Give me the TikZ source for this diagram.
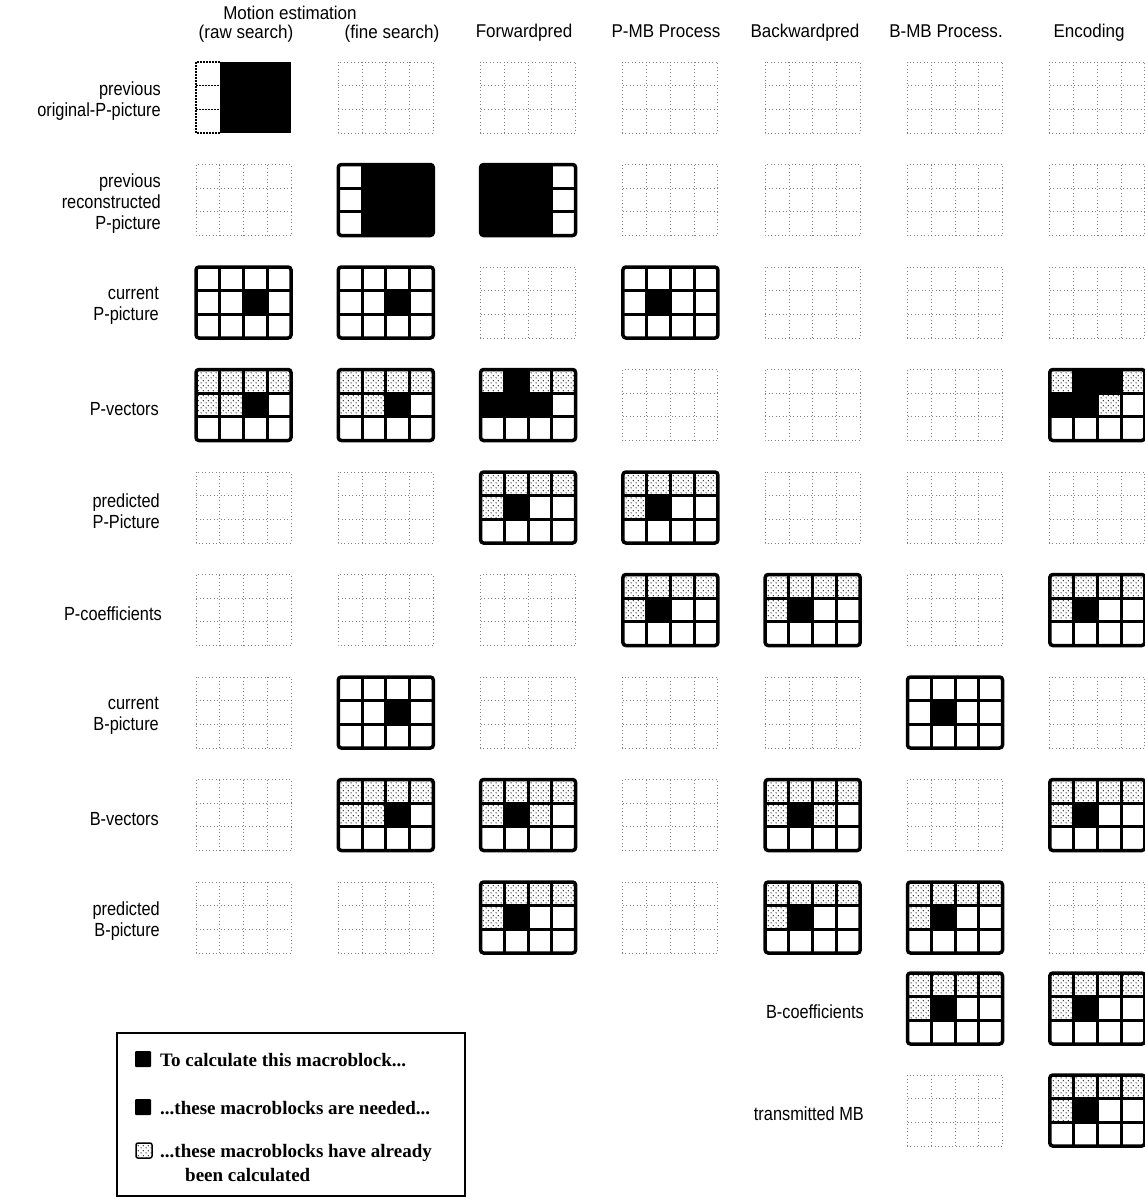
\documentclass[tikz,border=0pt]{standalone}
\usepackage{fontspec}
\setmainfont{Liberation Serif}
\newfontfamily\labfont[FakeStretch=0.86]{Liberation Sans}
\newfontfamily\hdrfont[FakeStretch=0.92]{Liberation Sans}
\usetikzlibrary{patterns}
\pgfdeclarepatternformonly{mbdots}{\pgfqpoint{0pt}{0pt}}{\pgfqpoint{5pt}{5pt}}{\pgfqpoint{5pt}{5pt}}{%
  \pgfpathcircle{\pgfqpoint{1.25pt}{1.25pt}}{0.7pt}%
  \pgfpathcircle{\pgfqpoint{3.75pt}{3.75pt}}{0.7pt}%
  \pgfusepath{fill}}
\tikzset{
  lbl/.style={font=\labfont\fontsize{19}{21}\selectfont, inner sep=0pt, align=right, anchor=east},
  hdr/.style={font=\hdrfont\fontsize{18.5}{21}\selectfont, inner sep=0pt, anchor=base},
  leg/.style={font=\bfseries\fontsize{19}{24}\selectfont, inner sep=0pt, anchor=base west},
  gridline/.style={line width=3pt},
  gridframe/.style={line width=3.5pt, rounded corners=3pt},
  faint/.style={draw=black!50, line width=0.9pt, dash pattern=on 1pt off 2.5pt},
  origdot/.style={draw=black, line width=1.5pt, dash pattern=on 1.5pt off 1.5pt},
}
% solid macroblock grid: #1 x, #2 y (top left), #3 black cells, #4 shaded cells
\newcommand\mbsolid[4]{%
  \begin{scope}[shift={(#1,#2)}]
    \fill[white] (0,0) rectangle (95,71);
    \foreach \mc/\mr in {#4}{\ifnum\mc>0 \fill[pattern=mbdots] ({(\mc-1)*23.75},{(\mr-1)*23.667}) rectangle ++(23.75,23.667);\fi}
    \foreach \mc/\mr in {#3}{\ifnum\mc>0 \fill[black] ({(\mc-1)*23.75},{(\mr-1)*23.667}) rectangle ++(23.75,23.667);\fi}
    \foreach \mi in {1,2,3} \draw[gridline] ({\mi*23.75},0) -- ++(0,71);
    \foreach \mj in {1,2} \draw[gridline] (0,{\mj*23.667}) -- ++(95,0);
    \draw[gridframe] (0,0) rectangle (95,71);
  \end{scope}}
% faint dotted (unused) grid
\newcommand\mbdot[2]{%
  \begin{scope}[shift={(#1,#2)}]
    \draw[faint] (0,0) rectangle (95,71);
    \foreach \mi in {1,2,3} \draw[faint] ({\mi*23.75},0) -- ++(0,71);
    \foreach \mj in {1,2} \draw[faint] (0,{\mj*23.667}) -- ++(95,0);
  \end{scope}}
\newcommand\mbstd[2]{\mbsolid{#1}{#2}{2/2}{1/1,2/1,3/1,4/1,1/2}}
\begin{document}
\begin{tikzpicture}[x=1pt,y=-1pt]
\useasboundingbox (0,0) rectangle (1144,1199);
\fill[white] (0,0) rectangle (1144,1199);

% headers
\node[hdr] (h0) at (290,20) {Motion estimation};
\node[hdr] (h1) at (246,39) {(raw search)};
\node[hdr] (h2) at (392,39) {(fine search)};
\node[hdr] (h3) at (524,38) {Forwardpred};
\node[hdr] (h4) at (666,38) {P-MB Process};
\node[hdr] (h5) at (805,38) {Backwardpred};
\node[hdr] (h6) at (946,38) {B-MB Process.};
\node[hdr] (h7) at (1089,38) {Encoding};

% row labels
\node[lbl] (r1) at (161,101) {previous\\original-P-picture};
\node[lbl] (r2) at (161,204) {previous\\reconstructed\\P-picture};
\node[lbl] (r3) at (159,306) {current\\P-picture};
\node[lbl] (r4) at (159,409) {P-vectors};
\node[lbl] (r5) at (160,511) {predicted\\P-Picture};
\node[lbl] (r6) at (162,614) {P-coefficients};
\node[lbl] (r7) at (159,716) {current\\B-picture};
\node[lbl] (r8) at (159,819) {B-vectors};
\node[lbl] (r9) at (160,921) {predicted\\B-picture};
\node[lbl] (r10) at (864,1012) {B-coefficients};
\node[lbl] (r11) at (864,1114) {transmitted MB};

% row 1: previous original P-picture
\begin{scope}[shift={(196,62)}]
  \fill[black] (23.75,0) rectangle (95,71);
  \draw[origdot] (23.75,0) -- (0,0) -- (0,71) -- (23.75,71);
  \draw[origdot] (0,23.667) -- (23.75,23.667);
  \draw[origdot] (0,47.333) -- (23.75,47.333);
\end{scope}
\mbdot{338.3}{62}\mbdot{480.6}{62}\mbdot{622.9}{62}\mbdot{765.2}{62}\mbdot{907.5}{62}\mbdot{1049.8}{62}

% row 2: previous reconstructed P-picture
\mbdot{196}{164.5}
\mbsolid{338.3}{164.5}{2/1,3/1,4/1,2/2,3/2,4/2,2/3,3/3,4/3}{0/0}
\mbsolid{480.6}{164.5}{1/1,2/1,3/1,1/2,2/2,3/2,1/3,2/3,3/3}{0/0}
\mbdot{622.9}{164.5}\mbdot{765.2}{164.5}\mbdot{907.5}{164.5}\mbdot{1049.8}{164.5}

% row 3: current P-picture
\mbsolid{196}{267}{3/2}{0/0}
\mbsolid{338.3}{267}{3/2}{0/0}
\mbdot{480.6}{267}
\mbsolid{622.9}{267}{2/2}{0/0}
\mbdot{765.2}{267}\mbdot{907.5}{267}\mbdot{1049.8}{267}

% row 4: P-vectors
\mbsolid{196}{369.5}{3/2}{1/1,2/1,3/1,4/1,1/2,2/2}
\mbsolid{338.3}{369.5}{3/2}{1/1,2/1,3/1,4/1,1/2,2/2}
\mbsolid{480.6}{369.5}{2/1,1/2,2/2,3/2}{1/1,3/1,4/1}
\mbdot{622.9}{369.5}\mbdot{765.2}{369.5}\mbdot{907.5}{369.5}
\mbsolid{1049.8}{369.5}{2/1,3/1,1/2,2/2}{1/1,4/1,3/2}

% row 5: predicted P-picture
\mbdot{196}{472}\mbdot{338.3}{472}
\mbstd{480.6}{472}
\mbstd{622.9}{472}
\mbdot{765.2}{472}\mbdot{907.5}{472}\mbdot{1049.8}{472}

% row 6: P-coefficients
\mbdot{196}{574.5}\mbdot{338.3}{574.5}\mbdot{480.6}{574.5}
\mbstd{622.9}{574.5}
\mbstd{765.2}{574.5}
\mbdot{907.5}{574.5}
\mbstd{1049.8}{574.5}

% row 7: current B-picture
\mbdot{196}{677}
\mbsolid{338.3}{677}{3/2}{0/0}
\mbdot{480.6}{677}\mbdot{622.9}{677}\mbdot{765.2}{677}
\mbsolid{907.5}{677}{2/2}{0/0}
\mbdot{1049.8}{677}

% row 8: B-vectors
\mbdot{196}{779.5}
\mbsolid{338.3}{779.5}{3/2}{1/1,2/1,3/1,4/1,1/2,2/2}
\mbsolid{480.6}{779.5}{2/2}{1/1,2/1,3/1,4/1,1/2,3/2}
\mbdot{622.9}{779.5}
\mbsolid{765.2}{779.5}{2/2}{1/1,2/1,3/1,4/1,1/2,3/2}
\mbdot{907.5}{779.5}
\mbstd{1049.8}{779.5}

% row 9: predicted B-picture
\mbdot{196}{882}\mbdot{338.3}{882}
\mbstd{480.6}{882}
\mbdot{622.9}{882}
\mbstd{765.2}{882}
\mbstd{907.5}{882}
\mbdot{1049.8}{882}

% row 10: B-coefficients
\mbstd{907.5}{973}
\mbstd{1049.8}{973}

% row 11: transmitted MB
\mbdot{907.5}{1075}
\mbstd{1049.8}{1075}

% legend
\draw[line width=2pt] (117,1033) rectangle (465,1196);
\fill[black, rounded corners=1pt] (135,1051) rectangle (151,1067);
\fill[black, rounded corners=1pt] (135,1099) rectangle (151,1115);
\draw[line width=1.5pt, rounded corners=2pt, pattern=mbdots] (136,1143) rectangle (152,1158);
\node[leg] (l1) at (160,1066) {To calculate this macroblock...};
\node[leg] (l2) at (160,1114) {...these macroblocks are needed...};
\node[leg] (l3) at (160,1157) {...these macroblocks have already};
\node[leg] (l4) at (185,1181) {been calculated};
\end{tikzpicture}
\end{document}
